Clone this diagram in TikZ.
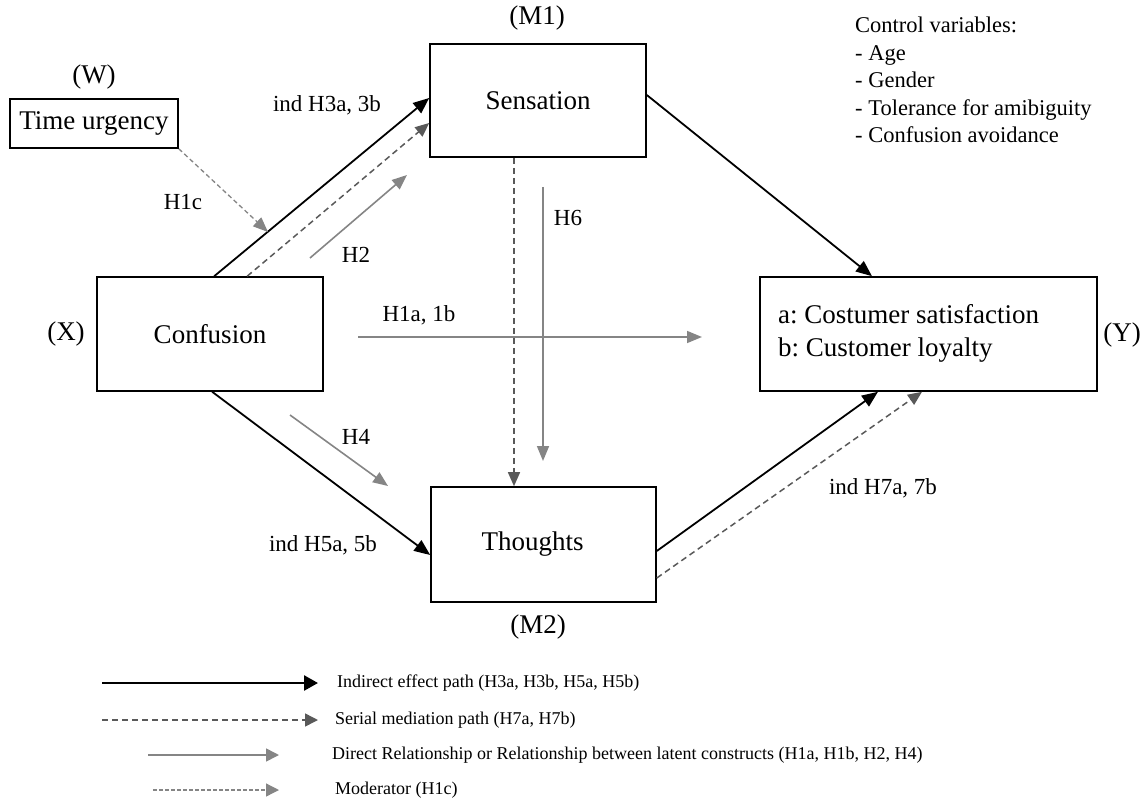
\documentclass[tikz,border=0pt]{standalone}
\usepackage{fontspec}
\setmainfont{Liberation Serif}
\usetikzlibrary{arrows.meta,calc}
\begin{document}
\frenchspacing
\begin{tikzpicture}[x=1pt,y=-1pt,
  box/.style={draw=black,line width=1.6pt,inner sep=0pt},
  big/.style={font=\fontsize{27}{32}\selectfont},
  lab/.style={font=\fontsize{23}{27}\selectfont,inner sep=0pt},
  leg/.style={font=\fontsize{18}{21}\selectfont,inner sep=0pt,anchor=west},
  blk/.style={draw=black,line width=1.8pt,-{Triangle[length=16pt,width=13pt]}},
  ser/.style={draw=black!65,line width=1.5pt,dash pattern=on 6pt off 4pt,-{Triangle[length=14pt,width=12pt]}},
  dir/.style={draw=black!48,line width=1.6pt,-{Triangle[length=15pt,width=12pt]}},
  mod/.style={draw=black!48,line width=1.3pt,dash pattern=on 4.5pt off 3pt,-{Triangle[length=15pt,width=12pt]}}
]
\useasboundingbox (0,0) rectangle (1145,805);

% boxes
\node[box,big,minimum width=168pt,minimum height=49pt] (tu) at (94,123.5) {Time urgency};
\node[box,big,minimum width=216pt,minimum height=113pt] (sens) at (538,100.5) {Sensation};
\node[box,big,minimum width=226pt,minimum height=114pt] (conf) at (210,334) {Confusion};
\node[box,big,minimum width=225pt,minimum height=115pt] (thou) at (543.5,544.5) {\hspace*{-22pt}Thoughts};
\node[box,minimum width=337pt,minimum height=114pt] (out) at (928.5,334) {};
\node[big,align=left,anchor=north west,inner sep=0pt] (outtxt) at (778,304) {a: Costumer satisfaction\\[1pt]b: Customer loyalty};

% role labels
\node[big,inner sep=0pt] (W) at (94,77) {(W)};
\node[big,inner sep=0pt] (M1) at (537,18) {(M1)};
\node[big,inner sep=0pt] (X) at (66,334) {(X)};
\node[big,inner sep=0pt] (M2) at (538,627) {(M2)};
\node[big,inner sep=0pt] (Y) at (1122,335) {(Y)};

% control variables
\node[font=\fontsize{22.5}{27.5}\selectfont,align=left,anchor=north west,inner sep=0pt] (ctrl) at (855,17) {Control variables:\\- Age\\- Gender\\- Tolerance for amibiguity\\- Confusion avoidance};

% free coordinates
\coordinate (h2s) at (310,258);
\coordinate (h2e) at (407,175);
\coordinate (h1ce) at (268,232);
\coordinate (h1as) at (358,337);
\coordinate (h1ae) at (702,337);
\coordinate (h6s) at (543,187);
\coordinate (h6e) at (543,461);
\coordinate (h4s) at (290,415);
\coordinate (h4e) at (388,486);

% connectors
\draw[blk] ([xshift=118pt]conf.north west) -- ([yshift=2.5pt]sens.west);
\draw[ser] ([xshift=151pt]conf.north west) -- ([yshift=-22.5pt]sens.west);
\draw[dir] (h2s) -- (h2e);
\draw[mod] (tu.south east) -- (h1ce);
\draw[blk] ([yshift=5.5pt]sens.east) -- ([xshift=-56.5pt]out.north);
\draw[dir] (h1as) -- (h1ae);
\draw[ser] ([xshift=-24pt]sens.south) -- ([xshift=-29.5pt]thou.north);
\draw[dir] (h6s) -- (h6e);
\draw[blk] ([xshift=116pt]conf.south west) -- ([yshift=-10.5pt]thou.west);
\draw[dir] (h4s) -- (h4e);
\draw[blk] ([yshift=-6.5pt]thou.east) -- ([xshift=-50.5pt]out.south);
\draw[ser] ([yshift=-33.5pt]thou.east) -- ([xshift=-6.5pt]out.south);

% path labels
\node[lab] (l3) at (327,105) {ind H3a, 3b};
\node[lab] (l1c) at (183,202) {H1c};
\node[lab] (l2) at (356,255) {H2};
\node[lab] (l1a) at (419,315) {H1a, 1b};
\node[lab] (l6) at (568,218) {H6};
\node[lab] (l4) at (356,437) {H4};
\node[lab] (l5) at (323,545) {ind H5a, 5b};
\node[lab] (l7) at (883,488) {ind H7a, 7b};

% legend
\coordinate (a1) at (102,683); \coordinate (b1) at (318,683);
\coordinate (a2) at (102,720); \coordinate (b2) at (318,720);
\coordinate (a3) at (148,755); \coordinate (b3) at (279,755);
\coordinate (a4) at (153,790); \coordinate (b4) at (279,790);
\draw[draw=black,line width=2.6pt,-{Triangle[length=14pt,width=15pt]}] (a1) -- (b1);
\draw[ser,-{Triangle[length=13pt,width=13pt]}] (a2) -- (b2);
\draw[dir,-{Triangle[length=13pt,width=13pt]}] (a3) -- (b3);
\draw[mod,dash pattern=on 3.5pt off 2.5pt,-{Triangle[length=13pt,width=13pt]}] (a4) -- (b4);
\node[leg] (t1) at (337,683) {Indirect effect path (H3a, H3b, H5a, H5b)};
\node[leg] (t2) at (335,720) {Serial mediation path (H7a, H7b)};
\node[leg] (t3) at (332,755) {Direct Relationship or Relationship between latent constructs (H1a, H1b, H2, H4)};
\node[leg] (t4) at (335,790) {Moderator (H1c)};
\end{tikzpicture}
\end{document}
